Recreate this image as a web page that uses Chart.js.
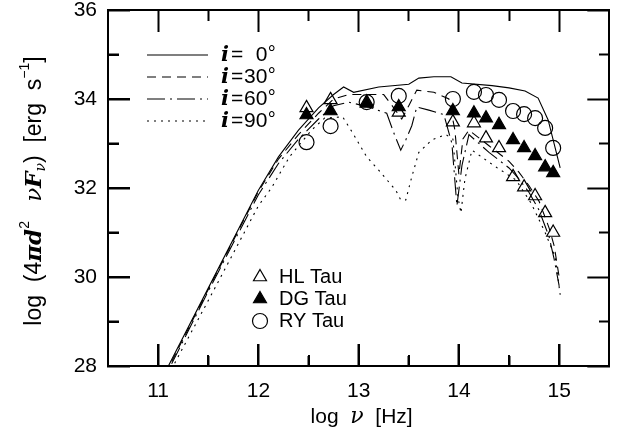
<!DOCTYPE html>
<html>
<head>
<meta charset="utf-8">
<script src="https://cdn.jsdelivr.net/npm/chart.js@4.4.0/dist/chart.umd.min.js"></script>
<style>
  html, body { margin: 0; padding: 0; background: #fff; }
  #wrap { width: 618px; height: 438px; }
</style>
</head>
<body>
<div id="wrap"><canvas id="sed" width="618" height="438"></canvas></div>
<script>
// model SEDs, one per inclination (log nu, log 4 pi d^2 nu F_nu)
const i0Nu  = [11.0, 11.5, 12.0, 12.2, 12.4, 12.6, 12.75, 12.85, 12.95, 13.2, 13.5, 13.6, 13.75, 13.92, 14.03, 14.33, 14.5, 14.66, 14.79, 14.89, 14.96, 15.01];
const i0Lum = [27.55, 29.75, 31.95, 32.7, 33.3, 33.8, 34.1, 34.27, 34.15, 34.27, 34.33, 34.47, 34.5, 34.5, 34.36, 34.3, 34.25, 34.18, 34.02, 33.53, 32.9, 32.45];

const i30Nu  = [11.0, 11.5, 12.0, 12.2, 12.4, 12.6, 12.75, 12.9, 13.1, 13.25, 13.35, 13.43, 13.5, 13.58, 13.75, 13.9, 13.96, 14.0, 14.04, 14.1, 14.3, 14.5, 14.6, 14.7, 14.8, 14.9, 14.95, 15.0];
const i30Lum = [27.5, 29.72, 31.92, 32.65, 33.2, 33.68, 34.0, 34.1, 34.1, 34.1, 33.8, 33.55, 33.85, 34.2, 34.15, 34.0, 33.3, 32.3, 33.1, 33.3, 32.95, 32.6, 32.35, 32.05, 31.7, 31.1, 30.7, 30.0];

const i60Nu  = [11.0, 11.5, 12.0, 12.2, 12.4, 12.6, 12.75, 12.9, 13.1, 13.28, 13.35, 13.42, 13.47, 13.53, 13.58, 13.7, 13.85, 13.93, 13.98, 14.03, 14.1, 14.3, 14.5, 14.6, 14.7, 14.8, 14.9, 14.95, 15.0];
const i60Lum = [27.45, 29.68, 31.85, 32.55, 33.1, 33.55, 33.85, 33.93, 33.82, 33.68, 33.24, 32.85, 33.08, 33.4, 33.82, 33.75, 33.65, 33.0, 31.6, 32.5, 33.2, 32.8, 32.45, 32.2, 31.9, 31.5, 30.9, 30.4, 29.8];

const i90Nu  = [11.0, 11.5, 12.0, 12.13, 12.31, 12.53, 12.66, 12.84, 12.94, 13.08, 13.2, 13.37, 13.42, 13.47, 13.53, 13.6, 13.73, 13.87, 13.94, 13.99, 14.02, 14.06, 14.13, 14.37, 14.57, 14.72, 14.86, 14.96, 15.01];
const i90Lum = [27.37, 29.47, 31.6, 32.0, 32.7, 33.3, 33.57, 33.6, 33.24, 32.7, 32.4, 31.95, 31.73, 31.73, 32.25, 32.8, 33.08, 33.2, 33.1, 31.8, 31.44, 32.2, 32.85, 32.47, 32.18, 31.66, 31.0, 30.45, 29.6];

// observed stars, shared frequencies
const obsNu  = [12.48, 12.72, 13.08, 13.40, 13.94, 14.15, 14.27, 14.40, 14.54, 14.65, 14.76, 14.86, 14.94];
const hlLum  = [33.8, 33.98, 33.93, 33.7, 33.48, 33.46, 33.12, 32.9, 32.25, 32.02, 31.82, 31.44, 31.0];
const dgLum  = [33.64, 33.73, 33.9, 33.82, 33.73, 33.68, 33.57, 33.42, 33.08, 32.9, 32.72, 32.47, 32.34];
const ryLum  = [33.03, 33.39, 33.93, 34.07, 34.0, 34.16, 34.09, 33.98, 33.73, 33.66, 33.57, 33.35, 32.9];

const inclLabels = ['0', '30', '60', '90'];
const starLabels = ['HL Tau', 'DG Tau', 'RY Tau'];
const xTicks = [11, 12, 13, 14, 15];          // labelled
const xMinor = [11.5, 12.5, 13.5, 14.5];
const yTicks = [28, 30, 32, 34, 36];          // labelled
const yMinor = [29, 31, 33, 35];

const SANS = "'Liberation Sans', Arial, sans-serif";
const SERIF = "'DejaVu Serif', 'Liberation Serif', serif";

const dashes = [[], [9, 6], [18, 5, 2, 5], [2, 5]];
const pts = (xs, ys) => xs.map((x, k) => ({ x: x, y: ys[k] }));

const lineSets = [[i0Nu, i0Lum], [i30Nu, i30Lum], [i60Nu, i60Lum], [i90Nu, i90Lum]].map((s, k) => ({
  data: pts(s[0], s[1]),
  showLine: true,
  borderColor: '#000',
  borderWidth: 1.1,
  borderDash: dashes[k],
  pointRadius: 0,
  tension: 0,
  order: 2
}));

const starStyles = [
  { pointStyle: 'triangle', fill: 'rgba(0,0,0,0)' },
  { pointStyle: 'triangle', fill: '#000' },
  { pointStyle: 'circle', fill: 'rgba(0,0,0,0)' }
];
const starSets = [hlLum, dgLum, ryLum].map((lum, k) => ({
  data: pts(obsNu, lum),
  showLine: false,
  pointStyle: starStyles[k].pointStyle,
  pointRadius: 7.5,
  pointBorderWidth: 1.2,
  pointBorderColor: '#000',
  pointBackgroundColor: starStyles[k].fill,
  order: 1
}));

// axes: box edges + inward ticks (minor ticks are shortened with a dash)
function boxAxis(pos, min, max, major, minor, showLabels) {
  const all = major.concat(minor).sort((p, q) => p - q);
  const horiz = pos === 'top' || pos === 'bottom';
  const fromBorder = pos === 'bottom' || pos === 'right';
  const minorDash = fromBorder ? [11, 100] : [0, 11, 11, 100];
  return {
    type: 'linear', position: pos, min: min, max: max,
    afterBuildTicks: s => { s.ticks = all.map(v => ({ value: v })); },
    afterFit: s => {
      if (horiz) { s.height = pos === 'bottom' ? 72 : 10; s.paddingLeft = 0; s.paddingRight = 0; }
      else { s.width = pos === 'left' ? 108 : 7; s.paddingTop = 0; s.paddingBottom = 0; }
    },
    border: { display: true, color: '#000', width: 2 },
    grid: {
      display: true, drawOnChartArea: false, drawTicks: true, tickLength: -22,
      tickColor: '#000', tickWidth: 2,
      tickBorderDash: c => (major.includes(c.tick.value) ? [] : minorDash)
    },
    ticks: {
      display: showLabels, color: '#000',
      padding: horiz ? 35 : 33,
      font: { family: SANS, size: 21 },
      callback: v => (major.includes(v) ? String(v) : '')
    }
  };
}

function drawRuns(ctx, runs, x, y) {
  let w = 0;
  runs.forEach(r => { ctx.font = r.f; r.w = ctx.measureText(r.t).width; w += r.w; });
  let cx = x - w / 2;
  runs.forEach(r => { ctx.font = r.f; ctx.fillText(r.t, cx, y + (r.dy || 0)); cx += r.w; });
}

// legends and axis titles
const labels = {
  id: 'labels',
  afterDraw(chart) {
    const ctx = chart.ctx;
    const a = chart.chartArea;
    ctx.save();
    ctx.fillStyle = '#000';
    ctx.strokeStyle = '#000';
    ctx.textBaseline = 'middle';
    ctx.lineWidth = 1.1;
    const rows = [55, 77, 99, 121];
    inclLabels.forEach((lab, k) => {
      ctx.setLineDash(dashes[k]);
      ctx.beginPath();
      ctx.moveTo(147, rows[k]); ctx.lineTo(208, rows[k]);
      ctx.stroke();
      ctx.setLineDash([]);
      ctx.font = 'bold italic 21px ' + SERIF;
      ctx.fillText('i', 221, rows[k] + 1);
      ctx.font = '21px ' + SANS;
      ctx.fillText('=', 231, rows[k]);
      const dw = ctx.measureText('0').width;
      const dx = 244 + (2 - lab.length) * dw;
      ctx.fillText(lab, dx, rows[k]);
      const lw = ctx.measureText(lab).width;
      ctx.font = '20px ' + SANS;
      ctx.fillText('\u00b0', dx + lw + 0.5, rows[k] - 1);
    });

    const srows = [277, 299, 321];
    starLabels.forEach((lab, k) => {
      ctx.fillStyle = starStyles[k].fill;
      ctx.lineWidth = 1.2;
      Chart.helpers.drawPoint(ctx, { pointStyle: starStyles[k].pointStyle, radius: 7.5, rotation: 0, borderWidth: 1.2 }, 260, srows[k]);
      ctx.fillStyle = '#000';
      ctx.font = '20px ' + SANS;
      ctx.fillText(lab, 279, srows[k]);
    });

    ctx.textBaseline = 'alphabetic';
    drawRuns(ctx, [
      { t: 'log  ', f: '21px ' + SANS },
      { t: '\u03bd', f: 'italic 22px ' + SERIF },
      { t: '  [Hz]', f: '21px ' + SANS }
    ], (a.left + a.right) / 2 + 3, 423);

    ctx.translate(41, 191);
    ctx.rotate(-Math.PI / 2);
    drawRuns(ctx, [
      { t: 'log  (4', f: '23px ' + SANS },
      { t: '\u03c0d', f: 'bold italic 23px ' + SERIF },
      { t: '2', f: '14px ' + SANS, dy: -12 },
      { t: '   ', f: '23px ' + SANS },
      { t: '\u03bd', f: 'italic 23px ' + SERIF },
      { t: 'F', f: 'bold italic 23px ' + SERIF },
      { t: '\u03bd', f: 'italic 14px ' + SERIF, dy: 4 },
      { t: ')  [erg  s', f: '23px ' + SANS },
      { t: '\u22121', f: '14px ' + SANS, dy: -12 },
      { t: ']', f: '23px ' + SANS }
    ], 0, 0);
    ctx.restore();
  }
};

// left and bottom edges once more, drawn last as solid bars
const edges = {
  id: 'edges',
  afterDraw(chart) {
    const ctx = chart.ctx;
    const a = chart.chartArea;
    const xs = chart.scales.x, ys = chart.scales.y;
    const L = Math.round(a.left), R = Math.round(a.right), T = Math.round(a.top), B = Math.round(a.bottom);
    ctx.save();
    ctx.setTransform(1, 0, 0, 1, 0, 0);
    ctx.globalAlpha = 1;
    ctx.globalCompositeOperation = 'source-over';
    ctx.fillStyle = '#000';
    ctx.fillRect(L - 1, T - 1, 2, B - T + 2);
    ctx.fillRect(L - 1, B - 1, R - L + 2, 2);
    xTicks.concat(xMinor).forEach(v => {
      const px = Math.round(xs.getPixelForValue(v));
      const len = xTicks.includes(v) ? 22 : 11;
      ctx.fillRect(px - 1, B - len, 2, len);
    });
    yTicks.concat(yMinor).forEach(v => {
      const py = Math.round(ys.getPixelForValue(v));
      const len = yTicks.includes(v) ? 22 : 11;
      ctx.fillRect(L, py - 1, len, 2);
    });
    ctx.restore();
  }
};

new Chart(document.getElementById('sed'), {
  type: 'scatter',
  data: { datasets: lineSets.concat(starSets) },
  options: {
    responsive: false,
    animation: false,
    layout: { padding: 0 },
    plugins: { legend: { display: false }, tooltip: { enabled: false } },
    scales: {
      x: boxAxis('bottom', 10.5, 15.5, xTicks, xMinor, true),
      xTop: boxAxis('top', 10.5, 15.5, xTicks, xMinor, false),
      y: boxAxis('left', 28, 36, yTicks, yMinor, true),
      yRight: boxAxis('right', 28, 36, yTicks, yMinor, false)
    }
  },
  plugins: [labels, edges]
});
</script>
</body>
</html>
